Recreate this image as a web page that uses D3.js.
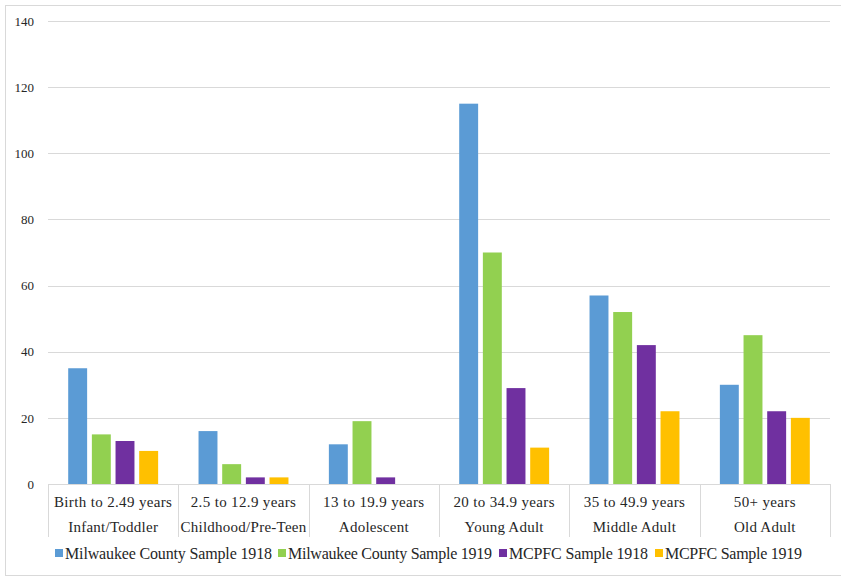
<!DOCTYPE html>
<html>
<head>
<meta charset="utf-8">
<script src="https://cdn.jsdelivr.net/npm/d3@7"></script>
<style>
  html, body { margin: 0; padding: 0; background: #fff; }
  svg { display: block; }
</style>
</head>
<body>
<script>
const categoriesLine1 = ["Birth to 2.49 years", "2.5 to 12.9 years", "13 to 19.9 years", "20 to 34.9 years", "35 to 49.9 years", "50+ years"];
const categoriesLine2 = ["Infant/Toddler", "Childhood/Pre-Teen", "Adolescent", "Young Adult", "Middle Adult", "Old Adult"];
const seriesNames = ["Milwaukee County Sample 1918", "Milwaukee County Sample 1919", "MCPFC Sample 1918", "MCPFC Sample 1919"];
const milwaukee1918 = [35, 16, 12, 115, 57, 30];
const milwaukee1919 = [15, 6, 19, 70, 52, 45];
const mcpfc1918 = [13, 2, 2, 29, 42, 22];
const mcpfc1919 = [10, 2, 0, 11, 22, 20];
const yTicks = [0, 20, 40, 60, 80, 100, 120, 140];
const colors = ["#5b9bd5", "#92d050", "#7030a0", "#ffc000"];

const seriesValues = [milwaukee1918, milwaukee1919, mcpfc1918, mcpfc1919];

const W = 841, H = 577;
const margin = { left: 48, right: 11, top: 21, bottom: 93 };
const plotW = W - margin.left - margin.right;
const plotH = H - margin.top - margin.bottom;
const FONT = "Liberation Serif";
const TXT = "#262626";

const svg = d3.select("body").append("svg").attr("width", W).attr("height", H);

// chart border
svg.append("rect").attr("x", 5.5).attr("y", 5.5).attr("width", W + 10).attr("height", 570)
  .attr("fill", "none").attr("stroke", "#d9d9d9").attr("stroke-width", 1);

const g = svg.append("g").attr("transform", `translate(${margin.left},${margin.top})`);

const y = d3.scaleLinear().domain([0, 140]).range([plotH, 0]);
const x0 = d3.scaleBand().domain(d3.range(categoriesLine1.length)).range([0, plotW]).padding(0);
const groupFrac = 0.69;
const groupW = x0.bandwidth() * groupFrac;
const x1 = d3.scaleBand().domain(d3.range(seriesNames.length)).range([0, groupW]).paddingInner(0.2).paddingOuter(0);

// gridlines
g.append("g").selectAll("line").data(yTicks.filter(t => t > 0)).join("line")
  .attr("x1", 0).attr("x2", plotW)
  .attr("y1", d => Math.round(y(d)) + 0.5).attr("y2", d => Math.round(y(d)) + 0.5)
  .attr("stroke", "#d9d9d9").attr("stroke-width", 1);

// y axis labels
const yAxis = d3.axisLeft(y).tickValues(yTicks).tickSize(0).tickPadding(14);
const yg = g.append("g").call(yAxis);
yg.attr("font-family", FONT).attr("font-size", 13);
yg.select(".domain").remove();
yg.selectAll("text").attr("font-family", FONT).attr("font-size", 13).attr("fill", TXT);

// bars
const groups = g.append("g").selectAll("g").data(categoriesLine1.map((c, i) => i)).join("g")
  .attr("transform", i => `translate(${x0(i) + (x0.bandwidth() - groupW) / 2},0)`);
groups.selectAll("rect").data(i => seriesValues.map((vals, s) => ({ s, v: vals[i] }))).join("rect")
  .attr("x", d => x1(d.s)).attr("width", x1.bandwidth())
  .attr("y", d => y(d.v)).attr("height", d => y(0) - y(d.v))
  .attr("fill", d => colors[d.s]);

// x axis
const xg = g.append("g").attr("transform", `translate(0,${plotH})`);
xg.append("line").attr("x1", 0).attr("x2", plotW).attr("y1", 0.5).attr("y2", 0.5)
  .attr("stroke", "#d9d9d9").attr("stroke-width", 1);
const bounds = d3.range(categoriesLine1.length + 1).map(i => i === categoriesLine1.length ? plotW : x0(i));
xg.selectAll("line.tick").data(bounds).join("line").attr("class", "tick")
  .attr("x1", d => Math.round(d) + 0.5).attr("x2", d => Math.round(d) + 0.5)
  .attr("y1", 0).attr("y2", 53)
  .attr("stroke", "#d9d9d9").attr("stroke-width", 1);
xg.selectAll("text.l1").data(categoriesLine1).join("text").attr("class", "l1")
  .attr("x", (d, i) => x0(i) + x0.bandwidth() / 2).attr("y", 23)
  .attr("text-anchor", "middle").attr("fill", TXT)
  .attr("font-family", FONT).attr("font-size", 15).attr("letter-spacing", 0.35)
  .text(d => d);
xg.selectAll("text.l2").data(categoriesLine2).join("text").attr("class", "l2")
  .attr("x", (d, i) => x0(i) + x0.bandwidth() / 2).attr("y", 48)
  .attr("text-anchor", "middle").attr("fill", TXT)
  .attr("font-family", FONT).attr("font-size", 15).attr("letter-spacing", 0.25)
  .text(d => d);

// legend
const legendX = [55, 278, 499, 655];
const legendLen = [207, 204, 139, 137];
const lg = svg.append("g").attr("transform", "translate(0,553)");
const items = lg.selectAll("g").data(seriesNames).join("g")
  .attr("transform", (d, i) => `translate(${legendX[i]},0)`);
items.append("rect").attr("x", 0).attr("y", -4).attr("width", 8).attr("height", 8)
  .attr("fill", (d, i) => colors[i]);
items.append("text").attr("x", 10).attr("y", 5.5).attr("fill", TXT)
  .attr("font-family", FONT).attr("font-size", 16)
  .attr("textLength", (d, i) => legendLen[i]).attr("lengthAdjust", "spacing")
  .text(d => d);
</script>
</body>
</html>
